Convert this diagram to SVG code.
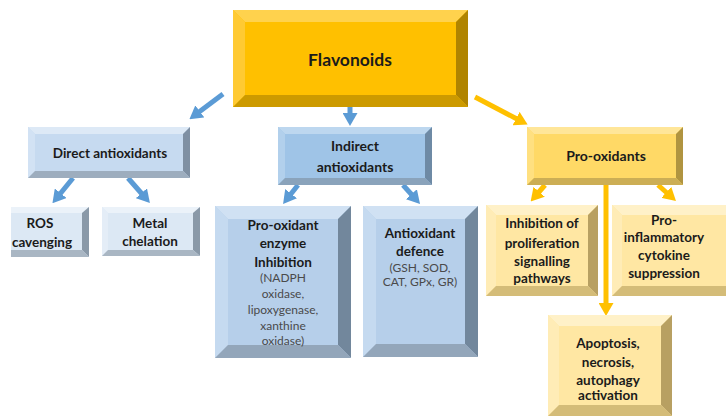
<svg xmlns="http://www.w3.org/2000/svg" width="726" height="416" viewBox="0 0 726 416">
<style>
text{font-family:Lato,"Liberation Sans",sans-serif;font-weight:bold;fill:#1b1b1b;text-anchor:middle}
.sm{font-weight:normal;font-size:12px;fill:#4a4a4a}
.y0 .f{fill:#FFC000}.y0 .t{fill:#FFD24D}.y0 .l{fill:#FFCA33}.y0 .r{fill:#B08400}.y0 .b{fill:#CC9A00}
.ba .f{fill:#C6DAF0}.ba .t{fill:#DDE9F6}.ba .l{fill:#D2E2F4}.ba .r{fill:#7F90A3}.ba .b{fill:#9DADBE}
.bb .f{fill:#9FC4E7}.bb .t{fill:#BDD7EF}.bb .l{fill:#B2D0EC}.bb .r{fill:#6E8AA5}.bb .b{fill:#8AA3BB}
.bc .f{fill:#DCE8F4}.bc .t{fill:#EBF2F9}.bc .l{fill:#E4EDF7}.bc .r{fill:#8A99A8}.bc .b{fill:#A9B6C3}
.bd .f{fill:#B6CFEA}.bd .t{fill:#D0E1F3}.bd .l{fill:#C5DAF0}.bd .r{fill:#72879C}.bd .b{fill:#93A6BA}
.ya .f{fill:#FFD966}.ya .t{fill:#FFE699}.ya .l{fill:#FFE080}.ya .r{fill:#B09440}.ya .b{fill:#CCAE55}
.yb .f{fill:#FFE7A3}.yb .t{fill:#FFF1C8}.yb .l{fill:#FFECB6}.yb .r{fill:#B8A062}.yb .b{fill:#D4BC78}
.ab{stroke:#5B9BD5;stroke-width:5;fill:none;marker-end:url(#hb)}
.ay{stroke:#FFC000;stroke-width:5;fill:none;marker-end:url(#hy)}
</style>
<defs>
<marker id="hb" markerUnits="userSpaceOnUse" markerWidth="13" markerHeight="15" refX="1" refY="7.5" orient="auto"><path d="M0,0 L13,7.5 L0,15 z" fill="#5B9BD5"/></marker>
<marker id="hy" markerUnits="userSpaceOnUse" markerWidth="13" markerHeight="15" refX="1" refY="7.5" orient="auto"><path d="M0,0 L13,7.5 L0,15 z" fill="#FFC000"/></marker>
</defs>
<rect width="726" height="416" fill="#ffffff"/>

<g id="connectors">
<line class="ab" x1="223" y1="94" x2="199" y2="112"/>
<line class="ab" x1="350" y1="106" x2="350" y2="114"/>
<line class="ay" x1="475" y1="97" x2="517" y2="119"/>
<line class="ab" x1="73" y1="178" x2="60" y2="194"/>
<line class="ab" x1="128" y1="178" x2="142" y2="194"/>
<line class="ab" x1="298" y1="185" x2="290.5" y2="194.5"/>
<line class="ab" x1="403" y1="185" x2="412" y2="195"/>
<line class="ay" x1="545" y1="185" x2="538.5" y2="192.5"/>
<line class="ay" x1="658" y1="185" x2="667" y2="193"/>
<line class="ay" x1="606" y1="185" x2="606" y2="304"/>
</g>

<g id="flavonoids" class="y0">
<rect class="f" x="233" y="10" width="235" height="97"/>
<polygon class="t" points="233,10 468,10 456,22 245,22"/>
<polygon class="l" points="233,10 245,22 245,95 233,107"/>
<polygon class="r" points="468,10 468,107 456,95 456,22"/>
<polygon class="b" points="233,107 468,107 456,95 245,95"/>
<text x="350" y="66" font-size="17.5">Flavonoids</text>
</g>

<g id="direct" class="ba">
<rect class="f" x="28" y="127" width="162" height="51"/>
<polygon class="t" points="28,127 190,127 183,134 35,134"/>
<polygon class="l" points="28,127 35,134 35,171 28,178"/>
<polygon class="r" points="190,127 190,178 183,171 183,134"/>
<polygon class="b" points="28,178 190,178 183,171 35,171"/>
<text x="110" y="158" font-size="13.5">Direct antioxidants</text>
</g>

<g id="indirect" class="bb">
<rect class="f" x="278" y="127" width="154" height="58"/>
<polygon class="t" points="278,127 432,127 425,134 285,134"/>
<polygon class="l" points="278,127 285,134 285,178 278,185"/>
<polygon class="r" points="432,127 432,185 425,178 425,134"/>
<polygon class="b" points="278,185 432,185 425,178 285,178"/>
<text x="355" y="151" font-size="14">Indirect</text>
<text x="355" y="172" font-size="14">antioxidants</text>
</g>

<g id="prooxidants" class="ya">
<rect class="f" x="527" y="127" width="156" height="58"/>
<polygon class="t" points="527,127 683,127 676,134 534,134"/>
<polygon class="l" points="527,127 534,134 534,178 527,185"/>
<polygon class="r" points="683,127 683,185 676,178 676,134"/>
<polygon class="b" points="527,185 683,185 676,178 534,178"/>
<text x="606" y="161" font-size="14">Pro-oxidants</text>
</g>

<g id="ros" class="bc">
<rect class="f" x="11" y="207" width="78" height="50"/>
<polygon class="t" points="11,207 89,207 82,213 11,213"/>
<polygon class="r" points="89,207 89,257 82,250 82,213"/>
<polygon class="b" points="11,257 89,257 82,250 11,250"/>
<text x="40" y="228" font-size="13.5">ROS</text>
<text x="42" y="247" font-size="13.5">cavenging</text>
</g>

<g id="metal" class="bc">
<rect class="f" x="102" y="207" width="98" height="49"/>
<polygon class="t" points="102,207 200,207 193,213 108,213"/>
<polygon class="l" points="102,207 108,213 108,250 102,256"/>
<polygon class="r" points="200,207 200,256 193,250 193,213"/>
<polygon class="b" points="102,256 200,256 193,250 108,250"/>
<text x="150" y="228" font-size="13.5">Metal</text>
<text x="150" y="246" font-size="13.5">chelation</text>
</g>

<g id="enzyme" class="bd">
<rect class="f" x="215" y="206" width="136" height="152"/>
<polygon class="t" points="215,206 351,206 338,219 228,219"/>
<polygon class="l" points="215,206 228,219 228,345 215,358"/>
<polygon class="r" points="351,206 351,358 338,345 338,219"/>
<polygon class="b" points="215,358 351,358 338,345 228,345"/>
<text x="283" y="230" font-size="13.5">Pro-oxidant</text>
<text x="283" y="248" font-size="13.5">enzyme</text>
<text x="283" y="267" font-size="13.5">Inhibition</text>
<text class="sm" x="283" y="282">(NADPH</text>
<text class="sm" x="283" y="298">oxidase,</text>
<text class="sm" x="283" y="314">lipoxygenase,</text>
<text class="sm" x="283" y="330">xanthine</text>
<text class="sm" x="283" y="345">oxidase)</text>
</g>

<g id="defence" class="bd">
<rect class="f" x="363" y="206" width="115" height="151"/>
<polygon class="t" points="363,206 478,206 465,219 376,219"/>
<polygon class="l" points="363,206 376,219 376,344 363,357"/>
<polygon class="r" points="478,206 478,357 465,344 465,219"/>
<polygon class="b" points="363,357 478,357 465,344 376,344"/>
<text x="420" y="238" font-size="13.5">Antioxidant</text>
<text x="420" y="256" font-size="13.5">defence</text>
<text class="sm" x="420" y="272">(GSH, SOD,</text>
<text class="sm" x="420" y="286">CAT, GPx, GR)</text>
</g>

<g id="inhibition" class="yb">
<rect class="f" x="486" y="205" width="112" height="91"/>
<polygon class="t" points="486,205 598,205 588,215 496,215"/>
<polygon class="l" points="486,205 496,215 496,286 486,296"/>
<polygon class="r" points="598,205 598,296 588,286 588,215"/>
<polygon class="b" points="486,296 598,296 588,286 496,286"/>
<text x="542" y="228" font-size="13.5">Inhibition of</text>
<text x="542" y="248" font-size="13.5">proliferation</text>
<text x="542" y="266" font-size="13.5">signalling</text>
<text x="542" y="283" font-size="13.5">pathways</text>
</g>

<g id="cytokine" class="yb">
<rect class="f" x="612" y="205" width="114" height="91"/>
<polygon class="t" points="612,205 726,205 726,215 622,215"/>
<polygon class="l" points="612,205 622,215 622,286 612,296"/>
<polygon class="b" points="612,296 726,296 726,286 622,286"/>
<text x="664" y="225" font-size="13.5">Pro-</text>
<text x="664" y="242" font-size="13.5">inflammatory</text>
<text x="664" y="260" font-size="13.5">cytokine</text>
<text x="664" y="278" font-size="13.5">suppression</text>
</g>

<g id="apoptosis" class="yb">
<rect class="f" x="548" y="315" width="124" height="105"/>
<polygon class="t" points="548,315 672,315 661,326 559,326"/>
<polygon class="l" points="548,315 559,326 559,405 548,416"/>
<polygon class="r" points="672,315 672,416 661,405 661,326"/>
<polygon class="b" points="548,416 672,416 661,405 559,405"/>
<text x="608" y="348" font-size="13.5">Apoptosis,</text>
<text x="608" y="367" font-size="13.5">necrosis,</text>
<text x="608" y="385" font-size="13.5">autophagy</text>
<text x="608" y="400" font-size="13.5">activation</text>
</g>
</svg>
